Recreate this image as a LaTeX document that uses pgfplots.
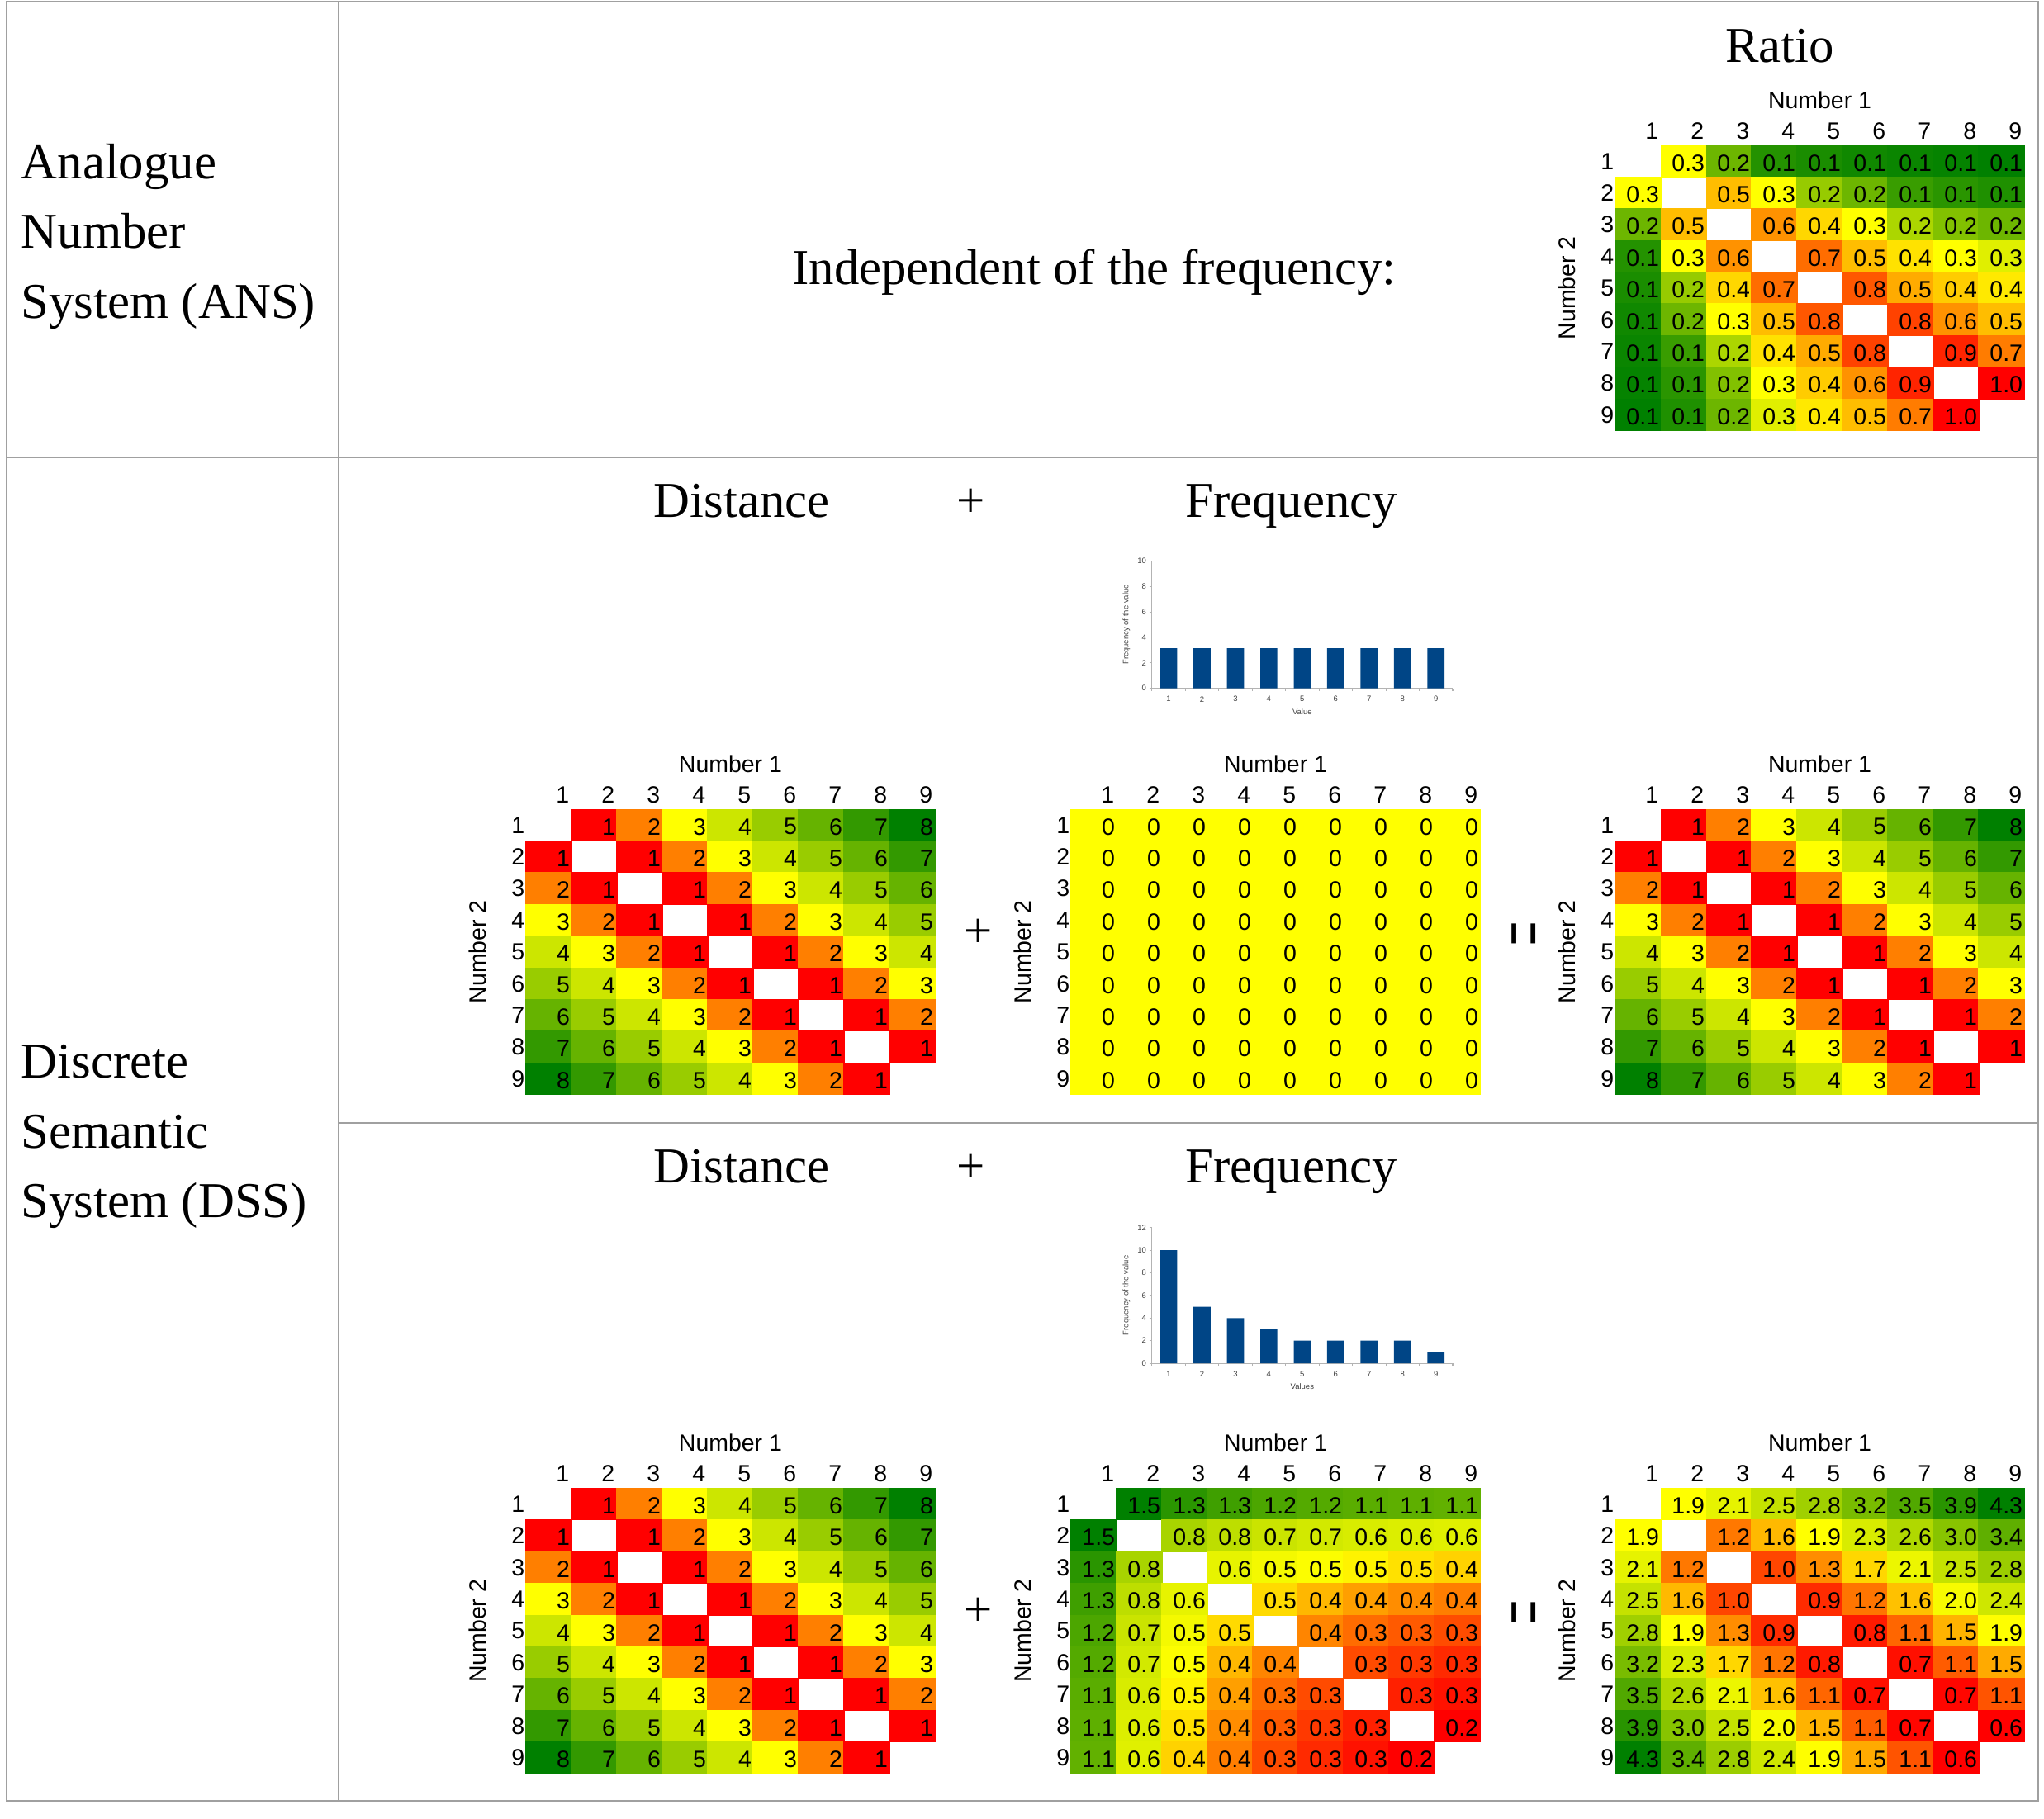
\documentclass[border=0pt]{standalone}
\usepackage{fontspec}
\setmainfont{Liberation Serif}
\newfontfamily\sansf{Liberation Sans}
\usepackage{graphicx}
\usepackage{pgfplots}
\usepackage{pgfplotstable}
\pgfplotsset{compat=1.18}

\definecolor{rulegray}{RGB}{160,160,160}
\definecolor{barblue}{RGB}{0,69,134}
\definecolor{axgray}{RGB}{179,179,179}

\newcommand\bigfont{\fontsize{17.3}{20}\selectfont}
\newcommand\cellfont{\sansf\fontsize{8.1}{9.5}\selectfont}
\newcommand\tinyfont{\sansf\fontsize{2.7}{3.2}\selectfont}

% one coloured cell of a heat map, with its value right-aligned in it
\newlength\cellW \setlength\cellW{0.55cm}
\newlength\cellH \setlength\cellH{0.384cm}
\newcommand\cellbox[1]{%
  \pgfsetfillcolor{mapped color}%
  \pgfpathrectangle{\pgfpoint{-0.5\cellW-0.15pt}{-0.5\cellH-0.15pt}}{\pgfpoint{\cellW+0.3pt}{\cellH+0.3pt}}%
  \pgfusepathqfill
  \pgftext[right,at={\pgfpoint{0.5\cellW-0.02cm}{-0.02cm}}]{\cellfont\color{black}%
    \pgfmathprintnumber[fixed,fixed zerofill,precision=#1,assume math mode=true]{\pgfplotspointmeta}}}
\pgfdeclareplotmark{heatcell0}{\cellbox{0}}
\pgfdeclareplotmark{heatcell1}{\cellbox{1}}

% colour scales: min / median / max as in the spreadsheet
\pgfplotsset{
  colormap={distmap}{rgb255(0cm)=(255,0,0) rgb255(2cm)=(255,255,0) rgb255(7cm)=(0,128,0)},
  colormap={zeromap}{rgb255(0cm)=(255,255,0) rgb255(1cm)=(255,255,0)},
  colormap={ratiomap}{rgb255(0cm)=(0,128,0) rgb255(24.5cm)=(255,255,0) rgb255(94.5cm)=(255,0,0)},
  colormap={freqmap}{rgb255(0cm)=(255,0,0) rgb255(25.2cm)=(255,255,0) rgb255(126.4cm)=(0,128,0)},
  colormap={summap}{rgb255(0cm)=(255,0,0) rgb255(12.64cm)=(255,255,0) rgb255(36.75cm)=(0,128,0)},
}

\pgfplotsset{
  heat/.style={
    scale only axis, width=4.95cm, height=3.456cm,
    xmin=0.5, xmax=9.5, ymin=0.5, ymax=9.5, y dir=reverse,
    xtick={1,...,9}, ytick={1,...,9},
    xticklabel pos=top,
    axis line style={draw=none}, major tick length=0pt,
    /pgf/number format/assume math mode=true,
    tick label style={font=\cellfont},
    xticklabel style={anchor=base east, inner sep=0pt, xshift=0.255cm, yshift=0.08cm},
    yticklabel style={anchor=east, inner sep=0pt, xshift=-0.01cm},
    title={Number 1},
    every axis title/.style={at={(0.5,1)}, anchor=base, yshift=0.45cm, font=\cellfont, inner sep=0pt},
    ylabel={Number 2},
    every axis y label/.style={at={(axis description cs:0,0.5)}, xshift=-0.59cm, rotate=90, anchor=center, inner sep=0pt, font=\cellfont},
    clip=false,
  },
  heatcells/.style={scatter, only marks, mark=heatcell#1, point meta=explicit},
  freqbar/.style={
    scale only axis, width=3.643cm,
    xmin=0.5, xmax=9.5, ymin=0,
    point meta=none,
    axis x line=bottom, axis y line=left,
    axis line style={draw=axgray, line width=0.3pt, -},
    xtick={1,...,9}, minor xtick={0.5,1.5,...,9.5},
    major x tick style={draw=none},
    tick style={draw=axgray, line width=0.3pt},
    major tick length=0.03cm, minor tick length=0.03cm, tick align=outside,
    /pgf/number format/assume math mode=true,
    tick label style={font=\tinyfont, text=black!75},
    xticklabel style={anchor=center, inner sep=0pt, yshift=-0.1cm},
    yticklabel style={anchor=east, inner sep=0pt, xshift=-0.03cm},
    every axis x label/.style={at={(axis description cs:0.5,0)}, yshift=-0.28cm, anchor=center, inner sep=0pt, font=\tinyfont, text=black!75},
    every axis y label/.style={at={(axis description cs:0,0.5)}, xshift=-0.307cm, rotate=90, anchor=center, inner sep=0pt, font=\tinyfont, text=black!75},
    ylabel={Frequency of the value},
  },
}

% distance |n1-n2| for each pair n1<n2
\pgfplotstableread{
i j v
1 2 1
1 3 2
1 4 3
1 5 4
1 6 5
1 7 6
1 8 7
1 9 8
2 3 1
2 4 2
2 5 3
2 6 4
2 7 5
2 8 6
2 9 7
3 4 1
3 5 2
3 6 3
3 7 4
3 8 5
3 9 6
4 5 1
4 6 2
4 7 3
4 8 4
4 9 5
5 6 1
5 7 2
5 8 3
5 9 4
6 7 1
6 8 2
6 9 3
7 8 1
7 9 2
8 9 1
}\disttab

% uniform frequency: all zero, diagonal included
\pgfplotstableread{
i j v
1 1 0
1 2 0
1 3 0
1 4 0
1 5 0
1 6 0
1 7 0
1 8 0
1 9 0
2 2 0
2 3 0
2 4 0
2 5 0
2 6 0
2 7 0
2 8 0
2 9 0
3 3 0
3 4 0
3 5 0
3 6 0
3 7 0
3 8 0
3 9 0
4 4 0
4 5 0
4 6 0
4 7 0
4 8 0
4 9 0
5 5 0
5 6 0
5 7 0
5 8 0
5 9 0
6 6 0
6 7 0
6 8 0
6 9 0
7 7 0
7 8 0
7 9 0
8 8 0
8 9 0
9 9 0
}\zerotab

% ratio
\pgfplotstableread{
i j v
1 2 0.30
1 3 0.16
1 4 0.09
1 5 0.08
1 6 0.07
1 7 0.065
1 8 0.06
1 9 0.055
2 3 0.48
2 4 0.30
2 5 0.20
2 6 0.16
2 7 0.11
2 8 0.095
2 9 0.085
3 4 0.60
3 5 0.41
3 6 0.30
3 7 0.22
3 8 0.18
3 9 0.16
4 5 0.70
4 6 0.48
4 7 0.38
4 8 0.30
4 9 0.27
5 6 0.76
5 7 0.53
5 8 0.44
5 9 0.36
6 7 0.82
6 8 0.60
6 9 0.48
7 8 0.90
7 9 0.66
8 9 1.00
}\ratiotab

% skewed frequency
\pgfplotstableread{
i j v
1 2 1.500
1 3 1.333
1 4 1.251
1 5 1.200
1 6 1.167
1 7 1.143
1 8 1.125
1 9 1.111
2 3 0.833
2 4 0.751
2 5 0.700
2 6 0.667
2 7 0.643
2 8 0.625
2 9 0.611
3 4 0.583
3 5 0.533
3 6 0.500
3 7 0.476
3 8 0.458
3 9 0.444
4 5 0.451
4 6 0.417
4 7 0.393
4 8 0.375
4 9 0.361
5 6 0.367
5 7 0.343
5 8 0.325
5 9 0.311
6 7 0.310
6 8 0.292
6 9 0.278
7 8 0.268
7 9 0.254
8 9 0.236
}\freqtab

% distance + skewed frequency
\pgfplotstableread{
i j v
1 2 1.900
1 3 2.133
1 4 2.451
1 5 2.800
1 6 3.167
1 7 3.543
1 8 3.925
1 9 4.311
2 3 1.233
2 4 1.551
2 5 1.900
2 6 2.267
2 7 2.643
2 8 3.025
2 9 3.411
3 4 0.983
3 5 1.333
3 6 1.700
3 7 2.076
3 8 2.458
3 9 2.844
4 5 0.851
4 6 1.217
4 7 1.593
4 8 1.975
4 9 2.361
5 6 0.767
5 7 1.143
5 8 1.525
5 9 1.911
6 7 0.710
6 8 1.092
6 9 1.478
7 8 0.668
7 9 1.054
8 9 0.636
}\sumtab

\begin{document}
\begin{tikzpicture}
\path[use as bounding box] (0,0) rectangle (24.75cm,-22.02cm);

% table rules
\begin{scope}[draw=rulegray, line width=0.4pt]
\draw (0.08cm,-0.02cm) rectangle (24.68cm,-21.81cm);
\draw (4.10cm,-0.02cm) -- (4.10cm,-21.81cm);
\draw (0.08cm,-5.54cm) -- (24.68cm,-5.54cm);
\draw (4.10cm,-13.60cm) -- (24.68cm,-13.60cm);
\end{scope}

% row headings
\begin{scope}[every node/.style={anchor=base west, inner sep=0pt, font=\bigfont}]
\node at (0.25cm,-2.16cm) {Analogue};
\node at (0.25cm,-3.00cm) {Number};
\node at (0.25cm,-3.85cm) {System (ANS)};
\node at (0.25cm,-13.05cm) {Discrete};
\node at (0.25cm,-13.90cm) {Semantic};
\node at (0.25cm,-14.74cm) {System (DSS)};
\end{scope}

\begin{scope}[every node/.style={anchor=base, inner sep=0pt, font=\bigfont}]
\node at (21.55cm,-0.75cm) {Ratio};
\node at (13.25cm,-3.44cm) {Independent of the frequency:};
\node at (8.98cm,-6.26cm) {Distance};
\node at (11.76cm,-6.26cm) {+};
\node at (15.635cm,-6.26cm) {Frequency};
\node at (8.98cm,-14.32cm) {Distance};
\node at (11.76cm,-14.32cm) {+};
\node at (15.635cm,-14.32cm) {Frequency};
\end{scope}

\begin{scope}[every node/.style={inner sep=0pt, font=\bigfont}]
\node at (11.85cm,-11.30cm) {+};
\node at (11.85cm,-19.52cm) {+};
\node[rotate=90] at (18.57cm,-11.31cm) {\scalebox{0.85}[1.9]{=}};
\node[rotate=90] at (18.57cm,-19.53cm) {\scalebox{0.85}[1.9]{=}};
\end{scope}

% ANS: ratio
\begin{axis}[heat, at={(19.56cm,-5.216cm)}, anchor=south west,
  colormap name=ratiomap, point meta min=0.055, point meta max=1.0]
\addplot[heatcells=1] table[x=j, y=i, meta=v] {\ratiotab};
\addplot[heatcells=1] table[x=i, y=j, meta=v] {\ratiotab};
\end{axis}

% DSS, uniform frequency
\begin{axis}[at={(13.947cm,-8.337cm)}, anchor=south west, freqbar,
  height=1.544cm, ymax=10, ytick={0,2,...,10}, xlabel={Value}]
\addplot[ybar, bar width=0.207cm, fill=barblue, draw=none, point meta=none] coordinates {(1,3.14) (2,3.14) (3,3.14) (4,3.14) (5,3.14) (6,3.14) (7,3.14) (8,3.14) (9,3.14)};
\end{axis}

\begin{axis}[heat, at={(6.37cm,-13.256cm)}, anchor=south west,
  colormap name=distmap, point meta min=1, point meta max=8]
\addplot[heatcells=0] table[x=j, y=i, meta=v] {\disttab};
\addplot[heatcells=0] table[x=i, y=j, meta=v] {\disttab};
\end{axis}

\begin{axis}[heat, at={(12.97cm,-13.256cm)}, anchor=south west,
  colormap name=zeromap, point meta min=-1, point meta max=1]
\addplot[heatcells=0] table[x=j, y=i, meta=v] {\zerotab};
\addplot[heatcells=0] table[x=i, y=j, meta=v] {\zerotab};
\end{axis}

\begin{axis}[heat, at={(19.56cm,-13.256cm)}, anchor=south west,
  colormap name=distmap, point meta min=1, point meta max=8]
\addplot[heatcells=0] table[x=j, y=i, meta=v] {\disttab};
\addplot[heatcells=0] table[x=i, y=j, meta=v] {\disttab};
\end{axis}

% DSS, skewed frequency
\begin{axis}[at={(13.947cm,-16.51cm)}, anchor=south west, freqbar,
  height=1.643cm, ymax=12, ytick={0,2,...,12}, xlabel={Values}]
\addplot[ybar, bar width=0.207cm, fill=barblue, draw=none, point meta=none] coordinates {(1,10) (2,5) (3,4) (4,3) (5,2) (6,2) (7,2) (8,2) (9,1)};
\end{axis}

\begin{axis}[heat, at={(6.37cm,-21.48cm)}, anchor=south west,
  colormap name=distmap, point meta min=1, point meta max=8]
\addplot[heatcells=0] table[x=j, y=i, meta=v] {\disttab};
\addplot[heatcells=0] table[x=i, y=j, meta=v] {\disttab};
\end{axis}

\begin{axis}[heat, at={(12.97cm,-21.48cm)}, anchor=south west,
  colormap name=freqmap, point meta min=0.236, point meta max=1.5]
\addplot[heatcells=1] table[x=j, y=i, meta=v] {\freqtab};
\addplot[heatcells=1] table[x=i, y=j, meta=v] {\freqtab};
\end{axis}

\begin{axis}[heat, at={(19.56cm,-21.48cm)}, anchor=south west,
  colormap name=summap, point meta min=0.636, point meta max=4.311]
\addplot[heatcells=1] table[x=j, y=i, meta=v] {\sumtab};
\addplot[heatcells=1] table[x=i, y=j, meta=v] {\sumtab};
\end{axis}
\end{tikzpicture}
\end{document}
